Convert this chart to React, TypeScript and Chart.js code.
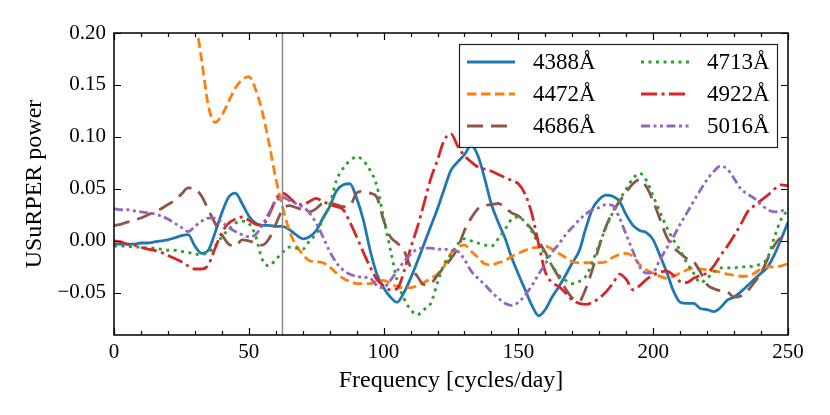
import React, { useEffect, useRef } from 'react';
import { Chart, registerables } from 'chart.js';

Chart.register(...registerables);

// Frequency grid [cycles/day], step 2.5 from 0 to 250
const freq: number[] = Array.from({ length: 101 }, (_, i) => i * 2.5);

const s4388: number[] = [
  -0.003, -0.003, -0.003, -0.003, -0.002, -0.002, -0.001, 0.000, 0.001, 0.003,
  0.005, 0.006, -0.005, -0.012, -0.009, 0.008, 0.027, 0.042, 0.046, 0.036,
  0.024, 0.017, 0.015, 0.015, 0.014, 0.014, 0.011, 0.006, 0.002, 0.004,
  0.010, 0.022, 0.033, 0.048, 0.054, 0.055, 0.041, 0.020, -0.009, -0.032,
  -0.045, -0.054, -0.059, -0.050, -0.036, -0.020, -0.003, 0.014, 0.031, 0.050,
  0.068, 0.076, 0.083, 0.092, 0.082, 0.060, 0.035, 0.018, 0.003, -0.016,
  -0.032, -0.047, -0.062, -0.072, -0.066, -0.054, -0.044, -0.033, -0.021, -0.010,
  0.012, 0.031, 0.040, 0.044, 0.043, 0.038, 0.025, 0.015, 0.010, 0.008,
  0.001, -0.014, -0.030, -0.048, -0.059, -0.060, -0.060, -0.065, -0.066, -0.068,
  -0.064, -0.057, -0.054, -0.049, -0.043, -0.037, -0.031, -0.025, -0.013, 0.002,
  0.018,
];

const s4472: number[] = [
  0.35, 0.35, 0.35, 0.35, 0.34, 0.33, 0.32, 0.31, 0.30, 0.28,
  0.26, 0.238, 0.215, 0.174, 0.130, 0.114, 0.121, 0.134, 0.147, 0.155,
  0.158, 0.146, 0.124, 0.094, 0.060, 0.033, 0.010, -0.004, -0.013, -0.019,
  -0.020, -0.021, -0.025, -0.031, -0.036, -0.039, -0.041, -0.041, -0.041, -0.039,
  -0.038, -0.041, -0.044, -0.045, -0.045, -0.043, -0.040, -0.036, -0.032, -0.024,
  -0.012, -0.006, -0.004, -0.010, -0.016, -0.022, -0.023, -0.021, -0.019, -0.015,
  -0.012, -0.009, -0.007, -0.006, -0.005, -0.008, -0.012, -0.016, -0.020, -0.021,
  -0.021, -0.021, -0.021, -0.020, -0.016, -0.013, -0.012, -0.015, -0.023, -0.028,
  -0.031, -0.034, -0.036, -0.034, -0.031, -0.028, -0.026, -0.027, -0.028, -0.029,
  -0.030, -0.032, -0.033, -0.034, -0.034, -0.031, -0.027, -0.025, -0.025, -0.024,
  -0.022,
];

const s4686: number[] = [
  0.015, 0.016, 0.018, 0.020, 0.022, 0.025, 0.028, 0.031, 0.035, 0.039,
  0.045, 0.051, 0.050, 0.043, 0.030, 0.017, 0.006, -0.003, -0.005, 0.001,
  0.000, -0.002, -0.004, 0.002, 0.016, 0.030, 0.034, 0.032, 0.030, 0.028,
  0.031, 0.036, 0.036, 0.035, 0.033, 0.034, 0.046, 0.048, 0.046, 0.042,
  0.020, 0.004, -0.002, -0.009, -0.025, -0.034, -0.042, -0.041, -0.033, -0.025,
  -0.017, -0.007, 0.010, 0.022, 0.031, 0.034, 0.035, 0.036, 0.032, 0.027,
  0.024, 0.018, 0.011, 0.000, -0.011, -0.024, -0.035, -0.046, -0.055, -0.058,
  -0.046, -0.027, -0.005, 0.014, 0.028, 0.038, 0.047, 0.055, 0.059, 0.052,
  0.038, 0.021, 0.004, -0.006, -0.012, -0.017, -0.020, -0.030, -0.042, -0.046,
  -0.048, -0.049, -0.054, -0.053, -0.048, -0.040, -0.031, -0.017, -0.004, 0.003,
  0.003,
];

const s4713: number[] = [
  -0.005, -0.005, -0.005, -0.006, -0.006, -0.007, -0.007, -0.008, -0.009, -0.009,
  -0.010, -0.011, -0.013, -0.013, -0.011, -0.005, 0.004, 0.011, 0.017, 0.019,
  0.017, 0.005, -0.018, -0.024, -0.018, -0.011, -0.006, -0.007, -0.008, 0.000,
  0.007, 0.021, 0.035, 0.058, 0.070, 0.077, 0.081, 0.077, 0.068, 0.053,
  0.022, -0.008, -0.038, -0.055, -0.066, -0.071, -0.066, -0.060, -0.040, -0.022,
  -0.013, -0.003, 0.002, 0.000, -0.002, -0.004, -0.005, 0.002, 0.011, 0.021,
  0.023, 0.018, 0.009, -0.003, -0.013, -0.024, -0.033, -0.038, -0.041, -0.039,
  -0.034, -0.020, -0.003, 0.013, 0.027, 0.039, 0.050, 0.060, 0.065, 0.058,
  0.043, 0.028, 0.013, 0.001, -0.009, -0.021, -0.031, -0.040, -0.036, -0.030,
  -0.026, -0.026, -0.026, -0.025, -0.025, -0.024, -0.022, -0.016, 0.004, 0.021,
  0.030,
];

const s4922: number[] = [
  0.000, -0.001, -0.003, -0.004, -0.006, -0.008, -0.009, -0.011, -0.014, -0.017,
  -0.020, -0.024, -0.027, -0.027, -0.023, -0.007, 0.008, 0.017, 0.021, 0.023,
  0.020, 0.016, 0.015, 0.025, 0.040, 0.046, 0.042, 0.036, 0.035, 0.038,
  0.041, 0.038, 0.035, 0.033, 0.030, 0.018, 0.004, -0.011, -0.025, -0.037,
  -0.043, -0.047, -0.046, -0.030, -0.007, 0.013, 0.036, 0.060, 0.078, 0.097,
  0.103, 0.091, 0.082, 0.076, 0.071, 0.069, 0.067, 0.064, 0.061, 0.058,
  0.055, 0.045, 0.026, -0.003, -0.030, -0.040, -0.044, -0.050, -0.057, -0.060,
  -0.061, -0.059, -0.055, -0.049, -0.041, -0.032, -0.037, -0.047, -0.043, -0.037,
  -0.033, -0.030, -0.029, -0.033, -0.039, -0.040, -0.036, -0.033, -0.031, -0.024,
  -0.014, -0.005, 0.005, 0.016, 0.028, 0.034, 0.039, 0.044, 0.050, 0.054,
  0.053,
];

const s5016: number[] = [
  0.031, 0.030, 0.030, 0.029, 0.028, 0.027, 0.026, 0.024, 0.021, 0.017,
  0.013, 0.009, 0.014, 0.019, 0.022, 0.022, 0.018, 0.013, 0.009, 0.006,
  0.004, 0.006, 0.015, 0.027, 0.038, 0.042, 0.039, 0.036, 0.033, 0.027,
  0.017, 0.004, -0.010, -0.021, -0.028, -0.032, -0.034, -0.035, -0.036, -0.043,
  -0.045, -0.038, -0.029, -0.020, -0.013, -0.008, -0.007, -0.007, -0.008, -0.008,
  -0.009, -0.010, -0.018, -0.029, -0.036, -0.042, -0.049, -0.055, -0.060, -0.062,
  -0.059, -0.052, -0.043, -0.032, -0.022, -0.011, -0.003, 0.006, 0.013, 0.020,
  0.026, 0.030, 0.032, 0.035, 0.034, 0.022, 0.006, -0.010, -0.025, -0.031,
  -0.030, -0.018, -0.007, 0.004, 0.016, 0.027, 0.038, 0.049, 0.059, 0.067,
  0.072, 0.069, 0.060, 0.050, 0.045, 0.041, 0.035, 0.030, 0.028, 0.029,
  0.031,
];

const seriesLabels: string[] = ['4388Å', '4472Å', '4686Å', '4713Å', '4922Å', '5016Å'];
const seriesValues: number[][] = [s4388, s4472, s4686, s4713, s4922, s5016];
const seriesColors: string[] = ['#1f77b4', '#ff7f0e', '#8c564b', '#2ca02c', '#d62728', '#9467bd'];
const seriesDashes: number[][] = [
  [],
  [9.5, 4.5],
  [16, 8],
  [3, 4.5],
  [16, 4.5, 3, 4.5],
  [9, 3.5, 3, 3.5, 3, 3.5],
];

const markerFreq = 62.5;
const xTicks: number[] = [0, 50, 100, 150, 200, 250];
const xMinorTicks: number[] = [10, 20, 30, 40, 60, 70, 80, 90, 110, 120, 130, 140, 160, 170, 180, 190, 210, 220, 230, 240];
const yTicks: number[] = [-0.05, 0, 0.05, 0.1, 0.15, 0.2];

const FONT = "'Liberation Serif', 'DejaVu Serif', serif";

const framePlugin = {
  id: 'frameTicksLegend',
  afterDatasetsDraw(chart: any) {
    const { ctx, chartArea: a, scales } = chart;
    const xs = scales.x;
    const ys = scales.y;
    ctx.save();
    ctx.strokeStyle = '#000';
    ctx.lineWidth = 1.2;
    ctx.setLineDash([]);
    ctx.beginPath();
    for (const v of xTicks) {
      const px = Math.round(xs.getPixelForValue(v)) + 0.5;
      ctx.moveTo(px, a.bottom); ctx.lineTo(px, a.bottom - 7);
      ctx.moveTo(px, a.top); ctx.lineTo(px, a.top + 7);
    }
    for (const v of xMinorTicks) {
      const px = Math.round(xs.getPixelForValue(v)) + 0.5;
      ctx.moveTo(px, a.bottom); ctx.lineTo(px, a.bottom - 4);
      ctx.moveTo(px, a.top); ctx.lineTo(px, a.top + 4);
    }
    for (const v of yTicks) {
      const py = Math.round(ys.getPixelForValue(v)) + 0.5;
      ctx.moveTo(a.left, py); ctx.lineTo(a.left + 7, py);
      ctx.moveTo(a.right, py); ctx.lineTo(a.right - 7, py);
    }
    ctx.stroke();
    ctx.lineWidth = 1.5;
    ctx.strokeRect(a.left, a.top, a.right - a.left, a.bottom - a.top);

    // legend
    const bw = 318, bh = 103;
    const bx = a.right - 11 - bw;
    const by = a.top + 11;
    ctx.fillStyle = 'rgba(255,255,255,0.85)';
    ctx.fillRect(bx, by, bw, bh);
    ctx.strokeStyle = '#222';
    ctx.lineWidth = 1.2;
    ctx.strokeRect(bx + 0.5, by + 0.5, bw, bh);
    ctx.font = `23px ${FONT}`;
    ctx.textBaseline = 'middle';
    ctx.textAlign = 'left';
    const ds = chart.data.datasets;
    for (let i = 0; i < 6; i++) {
      const col = Math.floor(i / 3);
      const row = i % 3;
      const lx = bx + 8 + col * 174;
      const ly = by + 18 + row * 32;
      ctx.strokeStyle = ds[i].borderColor;
      ctx.lineWidth = ds[i].borderWidth;
      ctx.setLineDash(ds[i].borderDash || []);
      ctx.beginPath();
      ctx.moveTo(lx, ly);
      ctx.lineTo(lx + 48, ly);
      ctx.stroke();
      ctx.setLineDash([]);
      ctx.fillStyle = '#000';
      ctx.fillText(ds[i].label, lx + 66, ly + 1);
    }
    ctx.restore();
  },
};

export default function App() {
  const ref = useRef<HTMLCanvasElement | null>(null);
  useEffect(() => {
    if (!ref.current) return;
    const datasets: any[] = seriesValues.map((vals, i) => ({
      label: seriesLabels[i],
      data: vals.map((y, k) => ({ x: freq[k], y })),
      borderColor: seriesColors[i],
      backgroundColor: seriesColors[i],
      borderWidth: 2.8,
      borderDash: seriesDashes[i],
      pointRadius: 0,
      fill: false,
      cubicInterpolationMode: 'monotone',
      order: 10 - i,
    }));
    datasets.push({
      label: 'marker',
      data: [{ x: markerFreq, y: -1 }, { x: markerFreq, y: 1 }],
      borderColor: '#8a8a8a',
      borderWidth: 1.5,
      pointRadius: 0,
      fill: false,
      order: 0,
    });
    const chart = new Chart(ref.current, {
      type: 'line',
      data: { datasets },
      options: {
        animation: false,
        responsive: false,
        maintainAspectRatio: false,
        layout: { padding: { left: 16, top: 33, right: 42, bottom: 2 } },
        plugins: { legend: { display: false }, tooltip: { enabled: false } },
        scales: {
          x: {
            type: 'linear',
            min: 0,
            max: 250,
            grid: { display: false, drawTicks: false },
            border: { display: false },
            afterBuildTicks: (s: any) => { s.ticks = xTicks.map((v) => ({ value: v })); },
            afterFit: (s: any) => { s.height = 78; },
            ticks: {
              padding: 5,
              maxRotation: 0,
              color: '#000',
              font: { family: FONT, size: 21 },
              callback: (v: any) => String(v),
            },
            title: {
              display: true,
              text: 'Frequency [cycles/day]',
              color: '#000',
              font: { family: FONT, size: 24 },
              padding: { top: 0, bottom: 18 },
            },
          },
          y: {
            type: 'linear',
            min: -0.0905,
            max: 0.2,
            grid: { display: false, drawTicks: false },
            border: { display: false },
            afterBuildTicks: (s: any) => { s.ticks = yTicks.map((v) => ({ value: v })); },
            afterFit: (s: any) => { s.width = 98; },
            ticks: {
              padding: 8,
              color: '#000',
              font: { family: FONT, size: 21 },
              callback: (v: any) => {
                const t = Number(v).toFixed(2);
                return t.startsWith('-') ? '\u2212' + t.slice(1) : t;
              },
            },
            title: {
              display: true,
              text: 'USuRPER power',
              color: '#000',
              font: { family: FONT, size: 24 },
              padding: { top: 4, bottom: 0 },
            },
          },
        },
      },
      plugins: [framePlugin],
    });
    return () => chart.destroy();
  }, []);
  return (
    <div style={{ position: 'absolute', left: 0, top: 0, width: 830, height: 415, background: '#fff' }}>
      <canvas ref={ref} width={830} height={415} style={{ display: 'block' }} />
    </div>
  );
}
